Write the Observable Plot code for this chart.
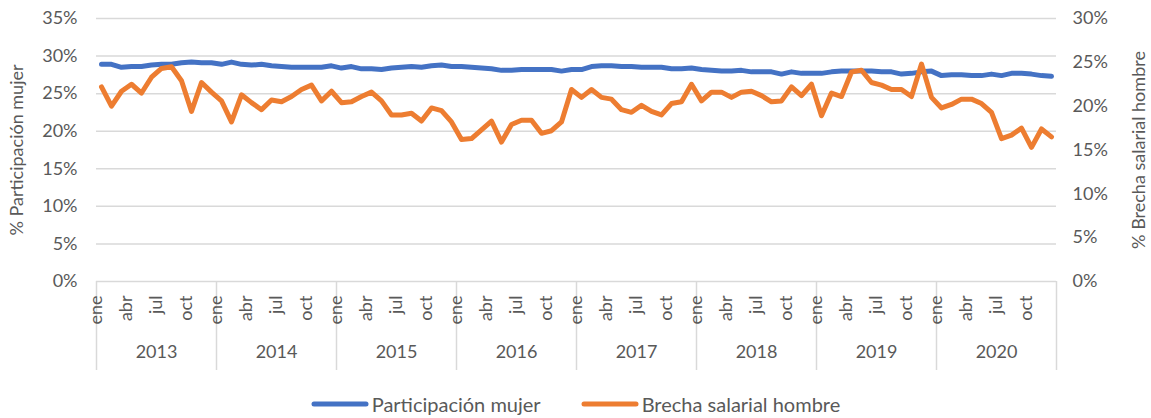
<!DOCTYPE html>
<html>
<head>
<meta charset="utf-8">
<script src="https://cdn.jsdelivr.net/npm/d3@7"></script>
<script src="https://cdn.jsdelivr.net/npm/@observablehq/plot@0.6"></script>
<style>
  html, body { margin: 0; padding: 0; background: #fff; }
  #chart { width: 1151px; }
  .legend { display: flex; justify-content: center; align-items: center; height: 38px; font-family: Lato, "Open Sans", sans-serif; font-size: 20px; color: #595959; }
  .legend .item { display: flex; align-items: center; }
  .legend svg { margin-right: 3px; }
</style>
</head>
<body>
<div id="chart"></div>
<script>
const years = ["2013", "2014", "2015", "2016", "2017", "2018", "2019", "2020"];
const monthLabels = ["ene", "abr", "jul", "oct"];
const monthLabelIndex = [0, 3, 6, 9];
const seriesNames = ["Participación mujer", "Brecha salarial hombre"];
const seriesColors = ["#4472C4", "#ED7D31"];
const leftTicks = [0, 5, 10, 15, 20, 25, 30, 35];
const rightTicks = [0, 5, 10, 15, 20, 25, 30];

// % Participación mujer (left axis), monthly 2013-2020
const participacion = [
  28.9, 28.9, 28.5, 28.6, 28.6, 28.8, 28.9, 28.9, 29.1, 29.2, 29.1, 29.1,
  28.9, 29.2, 28.9, 28.8, 28.9, 28.7, 28.6, 28.5, 28.5, 28.5, 28.5, 28.7,
  28.4, 28.6, 28.3, 28.3, 28.2, 28.4, 28.5, 28.6, 28.5, 28.7, 28.8, 28.6,
  28.6, 28.5, 28.4, 28.3, 28.1, 28.1, 28.2, 28.2, 28.2, 28.2, 28.0, 28.2,
  28.2, 28.6, 28.7, 28.7, 28.6, 28.6, 28.5, 28.5, 28.5, 28.3, 28.3, 28.4,
  28.2, 28.1, 28.0, 28.0, 28.1, 27.9, 27.9, 27.9, 27.6, 27.9, 27.7, 27.7,
  27.7, 27.9, 28.0, 28.0, 28.0, 28.0, 27.9, 27.9, 27.6, 27.7, 27.9, 28.0,
  27.4, 27.5, 27.5, 27.4, 27.4, 27.6, 27.4, 27.7, 27.7, 27.6, 27.4, 27.3
];
// % Brecha salarial hombre (right axis), monthly 2013-2020
const brecha = [
  22.2, 20.0, 21.7, 22.5, 21.5, 23.3, 24.3, 24.5, 22.9, 19.4, 22.7, 21.6,
  20.6, 18.2, 21.3, 20.4, 19.6, 20.7, 20.5, 21.1, 21.9, 22.4, 20.6, 21.7,
  20.4, 20.5, 21.1, 21.6, 20.6, 19.0, 19.0, 19.2, 18.3, 19.8, 19.5, 18.2,
  16.2, 16.3, 17.3, 18.3, 15.9, 17.9, 18.4, 18.4, 16.9, 17.2, 18.2, 21.9,
  21.0, 21.9, 21.0, 20.8, 19.6, 19.3, 20.1, 19.4, 19.0, 20.3, 20.5, 22.5,
  20.6, 21.6, 21.6, 21.0, 21.6, 21.7, 21.2, 20.5, 20.6, 22.2, 21.2, 22.5,
  18.9, 21.5, 21.1, 23.9, 24.1, 22.7, 22.4, 21.9, 21.9, 21.1, 24.8, 21.0,
  19.8, 20.2, 20.8, 20.8, 20.3, 19.3, 16.3, 16.7, 17.5, 15.3, 17.4, 16.5
];

const leftMax = 35, rightMax = 30;
const toLeft = v => v * leftMax / rightMax;

const data = participacion.map((v, i) => ({i, part: v, brecha: brecha[i]}));
const monthTicks = years.flatMap((y, k) => monthLabelIndex.map((m, j) => ({i: k * 12 + m, label: monthLabels[j]})));
const yearTicks = years.map((y, k) => ({i: k * 12 + 5.5, label: y}));
const boundaries = d3.range(0, years.length + 1).map(k => k * 12 - 0.5);

const font = "Lato, 'Open Sans', sans-serif";
const textColor = "#595959";

const chart = Plot.plot({
  width: 1151,
  height: 380,
  marginLeft: 96,
  marginRight: 95,
  marginTop: 18,
  marginBottom: 99,
  style: {fontFamily: font, fontSize: "18px", color: textColor, background: "#fff", overflow: "visible"},
  x: {domain: [-0.5, years.length * 12 - 0.5], axis: null},
  y: {domain: [0, leftMax]},
  marks: [
    Plot.gridY(leftTicks, {stroke: "#d9d9d9", strokeOpacity: 1, strokeWidth: 1.5}),
    Plot.axisY(leftTicks, {anchor: "left", tickSize: 0, tickPadding: 19, tickFormat: d => d + "%", fill: textColor, fontSize: 18,
      label: "% Participación mujer", labelAnchor: "center", labelOffset: 86, labelArrow: false}),
    Plot.axisY(rightTicks.map(toLeft), {anchor: "right", tickSize: 0, tickPadding: 16, tickFormat: d => Math.round(d * rightMax / leftMax) + "%", fill: textColor, fontSize: 18,
      label: "% Brecha salarial hombre", labelAnchor: "center", labelOffset: 88, labelArrow: false}),
    Plot.ruleX(boundaries, {x: d => d, stroke: "#d9d9d9", strokeWidth: 1.5, insetTop: 263, insetBottom: -89}),
    Plot.text(monthTicks, {x: "i", text: "label", frameAnchor: "bottom", rotate: -90, textAnchor: "end", dy: 14, fill: textColor, fontSize: 18}),
    Plot.text(yearTicks, {x: "i", text: "label", frameAnchor: "bottom", dy: 76, fill: textColor, fontSize: 18}),
    Plot.line(data, {x: "i", y: "part", stroke: seriesColors[0], strokeWidth: 5, strokeLinejoin: "round", strokeLinecap: "round"}),
    Plot.line(data, {x: "i", y: d => toLeft(d.brecha), stroke: seriesColors[1], strokeWidth: 5, strokeLinejoin: "round", strokeLinecap: "round"})
  ]
});
document.getElementById("chart").appendChild(chart);

const legend = document.createElement("div");
legend.className = "legend";
seriesNames.forEach((name, k) => {
  const item = document.createElement("div");
  item.className = "item";
  item.style.marginRight = k === 0 ? "40px" : "0";
  item.innerHTML = `<svg width="58" height="10"><line x1="3" y1="5" x2="55" y2="5" stroke="${seriesColors[k]}" stroke-width="5" stroke-linecap="round"/></svg><span>${name}</span>`;
  legend.appendChild(item);
});
legend.style.marginTop = "5px";
document.getElementById("chart").appendChild(legend);
</script>
</body>
</html>
